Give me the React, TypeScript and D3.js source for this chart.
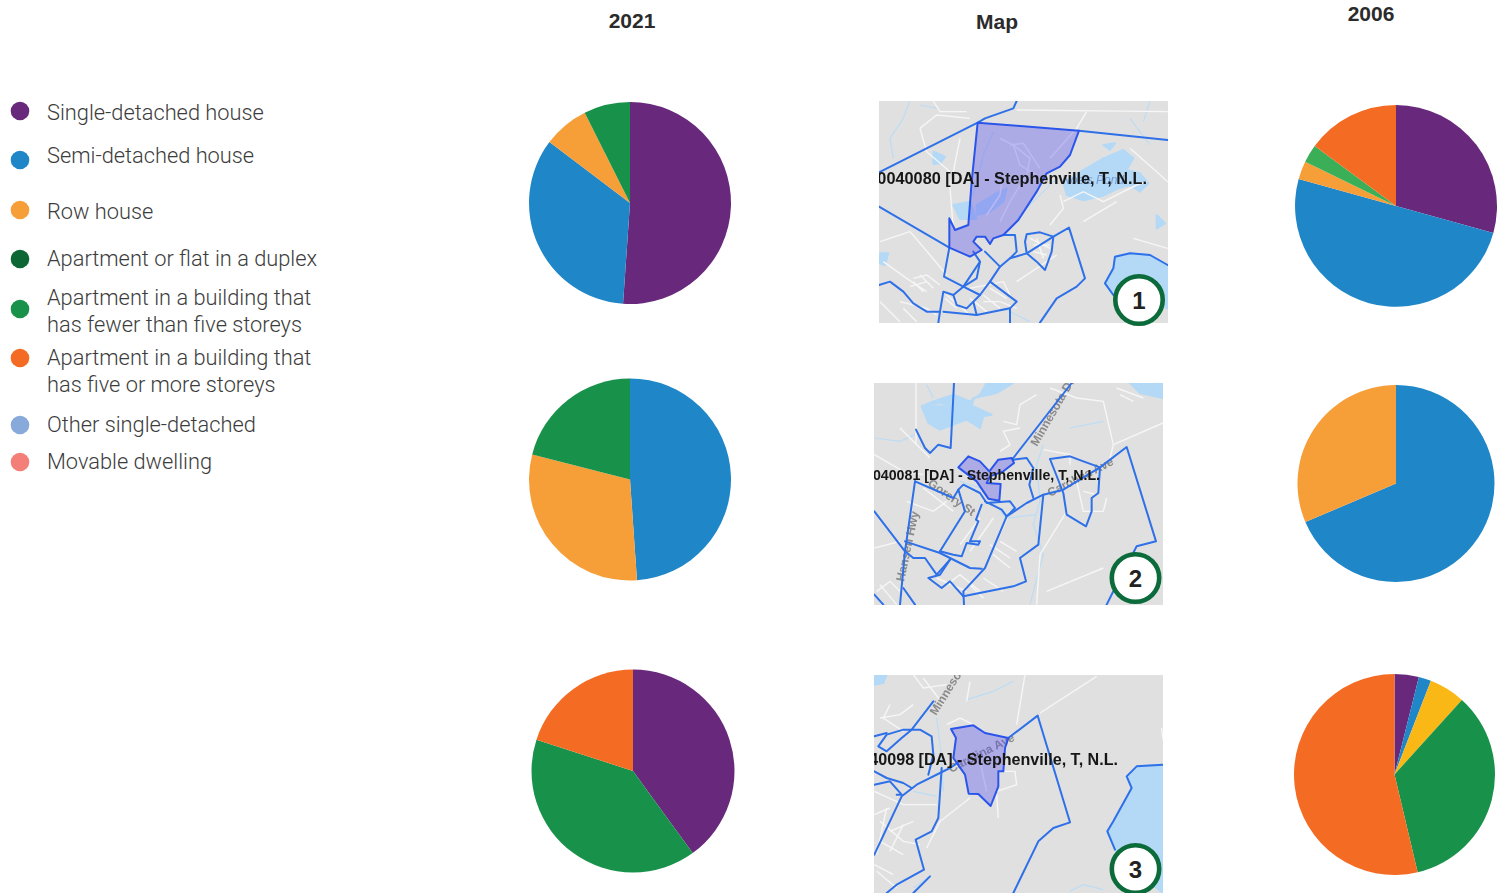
import React from 'react';
import * as d3 from 'd3';

const dwellingTypes = [
  'Single-detached house', 'Semi-detached house', 'Row house', 'Apartment or flat in a duplex',
  'Apartment in a building that has fewer than five storeys',
  'Apartment in a building that has five or more storeys',
  'Other single-detached', 'Movable dwelling',
];
const legendLines = [
  ['Single-detached house'], ['Semi-detached house'], ['Row house'], ['Apartment or flat in a duplex'],
  ['Apartment in a building that', 'has fewer than five storeys'],
  ['Apartment in a building that', 'has five or more storeys'],
  ['Other single-detached'], ['Movable dwelling'],
];
const legendDotY = [111, 160, 210, 259, 309, 358, 425, 462];
const legendTextY = [120, 163, 219, 266, 305, 364.5, 432, 469];
const legendColors = ['#68297c', '#1f86c8', '#f69e38', '#0c6735', '#18924a', '#f46c23', '#87aadb', '#f47f78'];

// shares in percent, clockwise from 12 o'clock
const pie2021a = [['#68297c', 51.1], ['#1f86c8', 34.2], ['#f69e38', 7.3], ['#18924a', 7.4]];
const pie2021b = [['#1f86c8', 48.9], ['#f69e38', 30.1], ['#18924a', 21]];
const pie2021c = [['#68297c', 40], ['#18924a', 40], ['#f46c23', 20]];
const pie2006a = [['#68297c', 29.3], ['#1f86c8', 50], ['#f69e38', 2.9], ['#3bae58', 2.9], ['#f46c23', 14.9]];
const pie2006b = [['#1f86c8', 68.6], ['#f69e38', 31.4]];
const pie2006c = [['#68297c', 3.9], ['#1f86c8', 2], ['#fab817', 5.8], ['#18924a', 34.6], ['#f46c23', 53.7]];

const pies: any[] = [
  { data: pie2021a, cx: 630, cy: 203, r: 101 },
  { data: pie2021b, cx: 630, cy: 479.5, r: 101 },
  { data: pie2021c, cx: 633, cy: 771, r: 101.5 },
  { data: pie2006a, cx: 1396, cy: 206, r: 101 },
  { data: pie2006b, cx: 1396, cy: 483.5, r: 98.5 },
  { data: pie2006c, cx: 1394.5, cy: 774.5, r: 100.5 },
];

type Pts = number[][];

// map traces, in pixels of a 3x enlargement of the map crop
const map1Water: Pts[] = [
  [[580,262],[640,225],[700,190],[760,165],[790,190],[770,225],[810,235],[835,265],[810,290],[780,270],[740,282],[700,302],[640,316],[590,300]],
  [[893,510],[840,480],[780,475],[735,485],[730,520],[705,565],[730,600],[790,600],[893,640]],
  [[190,170],[225,185],[210,205],[190,207]],
  [[250,330],[300,320],[320,372],[270,372]],
  [[30,475],[55,475],[45,510],[30,505]],
  [[860,360],[885,385],[860,400]],
  [[700,150],[735,145],[720,165]],
  [[320,330],[370,300],[410,280],[400,320],[360,350],[320,360]],
];
const map1Roads: Pts[] = [
  [[150,100],[200,60],[300,70]],[[190,18],[210,50],[290,50]],[[440,45],[893,50]],[[150,100],[170,170],[240,230]],
  [[270,130],[240,280],[250,400]],[[540,190],[620,100],[650,50]],[[780,160],[860,230],[893,260]],
  [[580,320],[640,290],[700,320],[800,270],[830,260]],[[570,300],[580,340],[540,390]],
  [[30,440],[120,410],[180,480],[230,540]],[[40,500],[110,550],[170,590]],[[90,620],[170,640],[200,660]],
  [[130,550],[170,540],[210,570]],[[430,150],[480,190],[470,240],[420,320],[390,380]],[[390,130],[430,150]],
  [[420,150],[460,145],[510,220]],[[430,150],[450,210],[500,240]],
  [[400,230],[390,300],[350,360]],[[480,430],[540,460]],[[500,430],[520,490]],[[300,580],[400,560],[420,600]],
  [[340,620],[390,620],[440,640]],[[440,560],[560,480]],[[640,380],[740,320]],[[790,430],[893,460]],
  [[130,560],[160,590]],[[150,540],[190,580]],[[120,575],[170,560]],[[225,610],[260,640]],[[340,600],[390,640]],
  [[360,580],[410,610]],[[300,610],[350,650]],[[490,450],[540,450]],[[490,470],[530,480]],[[30,620],[90,680]],
  [[100,640],[140,680]],[[230,600],[300,660]],
];
const map1Rivers: Pts[] = [
  [[120,18],[100,70],[60,130],[70,190]],[[370,110],[340,180],[310,300]],[[440,370],[560,250]],[[780,70],[840,150]],
  [[840,18],[820,80]],[[400,640],[480,680]],[[200,40],[150,30]],
];
const map1Lines: Pts[] = [
  [[27,232],[323,83],[345,70],[430,40],[440,18]],
  [[627,107],[893,135]],
  [[27,335],[238,458]],
  [[238,458],[222,545],[280,575],[330,500],[310,470]],
  [[400,420],[435,420],[440,470],[420,490],[470,475],[550,425],[597,398],[645,550],[620,575],[560,610],[510,683]],
  [[470,475],[465,440],[470,418],[510,412],[550,425],[545,470],[525,525],[500,500],[470,475]],
  [[893,510],[840,480],[780,475],[735,485],[730,520],[705,565],[730,600]],
  [[27,570],[60,560],[100,590],[130,625],[170,650],[210,650],[220,590],[250,600]],
  [[330,500],[320,550],[280,575],[250,600],[260,630],[290,640],[330,600],[360,560],[390,515],[345,470]],
  [[390,515],[420,490]],[[210,650],[205,683]],[[220,650],[320,660],[420,640],[420,683]],
  [[320,660],[310,620]],[[280,575],[330,600]],[[360,560],[440,620],[420,640]],
];
const map1Area: Pts = [[323,83],[627,107],[600,180],[570,215],[530,235],[500,290],[445,375],[400,420],[370,430],[360,447],[345,425],[320,425],[310,440],[335,465],[300,485],[238,458],[238,370],[255,405],[295,390],[305,260]];

const map2Water: Pts[] = [
  [[155,85],[210,75],[250,85],[305,90],[310,60],[380,45],[430,15],[350,15],[330,50],[300,70],[250,50],[190,70]],
  [[155,85],[175,135],[210,155],[290,125],[330,150],[340,115],[365,110],[310,85]],
  [[780,15],[810,45],[879,60],[879,15]],
];
const map2Roads: Pts[] = [
  [[138,15],[138,200]],[[400,130],[440,140],[450,80],[500,50]],[[540,30],[620,60],[700,70],[730,200],[720,240]],
  [[740,30],[820,60]],[[730,200],[879,135]],[[13,230],[100,280],[160,290]],[[90,150],[180,240]],
  [[160,330],[250,400]],[[110,370],[190,400],[230,370]],[[13,510],[90,490]],[[370,420],[300,520]],[[330,420],[270,500]],
  [[420,400],[350,560]],[[390,490],[440,520]],[[370,530],[420,570]],[[30,620],[80,680]],[[200,600],[290,640]],
  [[300,620],[340,660]],[[620,310],[640,400],[700,400],[710,360]],[[640,340],[680,350]],[[590,400],[510,530],[500,680]],
  [[520,215],[600,230],[600,260]],[[530,640],[700,570]],[[390,220],[420,200],[400,160],[450,150]],[[750,50],[790,70]],
  [[20,640],[60,610],[90,640]],[[230,620],[270,590],[330,640]],[[340,600],[400,640]],[[360,500],[420,540]],
];
const map2Rivers: Pts[] = [
  [[13,180],[90,190],[135,170]],[[520,200],[500,260],[510,370],[490,440],[520,530],[480,680]],[[600,150],[700,130]],
  [[270,310],[330,330],[410,420],[500,410]],[[190,60],[170,20]],
];
const map2Lines: Pts[] = [
  [[252,15],[242,210],[205,200],[180,225],[165,210],[138,155]],
  [[135,310],[105,520],[90,680]],
  [[605,15],[430,240]],
  [[135,310],[250,360],[265,335],[285,400],[210,520]],
  [[265,335],[280,320],[330,345],[350,375],[420,370],[435,390],[410,415],[395,395],[345,370]],
  [[410,415],[345,570],[280,640],[282,680]],
  [[430,245],[470,240],[490,270],[478,320],[490,360]],
  [[335,380],[318,425],[325,430],[300,490],[330,490],[325,500],[290,495],[275,535],[250,530],[210,520]],
  [[13,400],[105,520],[130,540],[165,540],[200,590],[240,545]],
  [[105,490],[210,525],[300,570],[335,572]],
  [[240,545],[210,590],[175,600],[215,630],[240,610],[280,655]],
  [[410,415],[470,375],[520,350],[580,335],[690,268],[770,207],[858,490],[800,505],[730,640],[710,680]],
  [[520,350],[505,500],[450,540],[468,610],[430,625],[280,655]],
  [[540,243],[600,235],[640,250],[690,268],[685,345],[665,360],[665,400],[648,445],[590,410],[580,345],[540,243]],
  [[13,650],[40,680]],[[100,630],[135,680]],
];
const map2Area: Pts = [[265,268],[295,235],[330,250],[358,280],[385,245],[425,240],[432,255],[400,280],[360,295],[350,315],[392,318],[388,368],[355,362],[320,310]];

const map3Water: Pts[] = [
  [[879,290],[800,295],[770,325],[785,360],[730,460],[712,490],[735,545],[800,600],[860,660],[879,675]],
  [[13,20],[50,20],[40,45],[13,50]],
];
const map3Roads: Pts[] = [
  [[130,20],[160,60],[230,50]],[[60,110],[40,150],[100,190]],[[290,100],[300,40]],[[510,135],[680,25]],
  [[465,20],[440,170]],[[230,170],[270,150],[310,170]],[[300,390],[210,460],[170,540]],[[380,370],[440,350],[435,310],[400,310]],
  [[380,380],[385,450]],[[330,280],[350,370]],[[13,370],[100,410],[200,410]],[[30,460],[100,520],[150,530]],
  [[50,420],[20,560]],[[60,490],[130,460]],[[20,610],[80,660]],[[875,180],[879,215]],[[30,150],[90,140],[130,110]],
  [[160,30],[220,110]],[[13,440],[60,420]],[[100,470],[60,550]],[[30,520],[100,560]],[[13,590],[70,620]],
];
const map3Rivers: Pts[] = [
  [[200,150],[215,270],[220,370]],[[290,95],[370,70],[430,40]],[[130,370],[200,385]],[[130,660],[180,625]],[[600,670],[640,650],[700,665]],
];
const map3Lines: Pts[] = [
  [[190,100],[125,185],[95,210],[50,250],[25,235],[50,200],[100,185],[150,185],[185,205],[190,260],[175,320]],
  [[13,205],[50,195]],
  [[13,310],[50,330],[100,345],[125,360]],[[13,350],[60,340],[95,380],[80,380]],
  [[13,560],[95,385],[140,350],[240,300],[270,280]],
  [[415,210],[503,143],[600,463],[550,480],[505,520],[430,675]],
  [[215,300],[205,450],[185,490],[137,515],[162,605],[80,650],[50,675]],
  [[879,290],[800,295],[770,325],[785,360],[730,460],[712,490],[735,545]],
  [[180,625],[130,675]],
];
const map3Area: Pts = [[243,183],[310,172],[345,195],[415,210],[405,240],[400,310],[385,310],[385,355],[362,414],[325,378],[296,377],[285,320],[250,270],[258,210]];

const maps: any[] = [
  { x: 879, y: 101, h: 222, ox: 870, oy: 95, water: map1Water, roads: map1Roads, rivers: map1Rivers, lines: map1Lines, area: map1Area,
    label: '0040080 [DA] - Stephenville, T, N.L.', lx: 1147, ly: 184, fs: 16.3, badge: '1', bx: 1139, by: 300,
    names: [['Noels Pond', 1062, 184, 0, 'rgba(75,115,190,.6)', 'italic']] },
  { x: 874, y: 383, h: 222, ox: 870, oy: 378, water: map2Water, roads: map2Roads, rivers: map2Rivers, lines: map2Lines, area: map2Area,
    label: '0040081 [DA] - Stephenville, T, N.L.', lx: 1100, ly: 480, fs: 14.2, badge: '2', bx: 1135.5, by: 578,
    names: [['Minnesota Dr', 1037, 447, -60, '#8a8a8a', 'normal'], ['Carolina Ave', 1050, 497, -27, '#8a8a8a', 'normal'], ['Gorery St', 927, 485, 35, '#8a8a8a', 'normal'], ['Hansen Hwy', 904, 582, -78, '#8a8a8a', 'normal']] },
  { x: 874, y: 675, h: 218, ox: 870, oy: 668, water: map3Water, roads: map3Roads, rivers: map3Rivers, lines: map3Lines, area: map3Area,
    label: '0040098 [DA] - Stephenville, T, N.L.', lx: 1118, ly: 765, fs: 16.1, badge: '3', bx: 1135.5, by: 869,
    names: [['Minnesota', 936, 716, -58, '#8a8a8a', 'normal'], ['Carolina Ave', 951, 773, -27, '#8a8a8a', 'normal']] },
];

const titles: [string, number, number][] = [['2021', 632, 28], ['Map', 997, 29], ['2006', 1371, 21]];
const sans = '"Liberation Sans", Arial, sans-serif';

function Pie({ data, cx, cy, r }: any) {
  const slices = d3.pie<any>().sort(null).value(d => d[1])(data);
  const arc = d3.arc<any>().innerRadius(0).outerRadius(r);
  return (
    <g transform={`translate(${cx},${cy})`}>
      {slices.map((s, i) => <path key={i} d={arc(s) as string} fill={s.data[0]} />)}
    </g>
  );
}

function MapPanel({ m, id }: any) {
  // zoom pixels back to page pixels
  const sx = d3.scaleLinear().domain([0, 3]).range([m.ox, m.ox + 1]);
  const sy = d3.scaleLinear().domain([0, 3]).range([m.oy, m.oy + 1]);
  const line = d3.line<number[]>().x(d => sx(d[0])).y(d => sy(d[1]));
  const closed = (p: Pts) => (line(p) as string) + 'Z';
  return (
    <g>
      <clipPath id={`clip${id}`}><rect x={m.x} y={m.y} width={289} height={m.h} /></clipPath>
      <g clipPath={`url(#clip${id})`}>
        <rect x={m.x} y={m.y} width={289} height={m.h} fill="#e0e0e0" />
        <g filter="url(#soft)">
          {m.water.map((p: Pts, i: number) => <path key={i} d={closed(p)} fill="#b4d9f6" stroke="#b4d9f6" strokeWidth={2} strokeLinejoin="round" />)}
          {m.rivers.map((p: Pts, i: number) => <path key={i} d={line(p) as string} fill="none" stroke="#bcdcf4" strokeWidth={1.2} />)}
          {m.roads.map((p: Pts, i: number) => <path key={i} d={line(p) as string} fill="none" stroke="#f6f6f6" strokeWidth={1.4} />)}
          {m.names.map((n: any, i: number) => (
            <text key={i} transform={`translate(${n[1]},${n[2]}) rotate(${n[3]})`} fontFamily={sans} fontSize={12} fontWeight={n[5] === 'italic' ? 400 : 700} fontStyle={n[5]} fill={n[4]}>{n[0]}</text>
          ))}
          {m.lines.map((p: Pts, i: number) => <path key={i} d={line(p) as string} fill="none" stroke="#2f70e8" strokeWidth={2} strokeLinejoin="round" strokeLinecap="round" />)}
          <path d={closed(m.area)} fill="rgba(92,84,236,.38)" stroke="#2a55ea" strokeWidth={2} strokeLinejoin="round" />
          <text x={m.lx} y={m.ly} textAnchor="end" fontFamily={sans} fontSize={m.fs} fontWeight={700} fill="#161616">{m.label}</text>
        </g>
      </g>
      <circle cx={m.bx} cy={m.by} r={23.7} fill="#fff" stroke="#0c6b3a" strokeWidth={4.6} />
      <text x={m.bx} y={m.by + 8.5} textAnchor="middle" fontFamily={sans} fontSize={24} fontWeight={700} fill="#222">{m.badge}</text>
    </g>
  );
}

export default function App() {
  return (
    <svg width={1503} height={893} style={{ position: 'absolute', left: 0, top: 0, display: 'block', background: '#fff' }}>
      <defs>
        <filter id="soft" x="-5%" y="-5%" width="110%" height="110%"><feGaussianBlur stdDeviation="0.45" /></filter>
      </defs>
      {titles.map(([t, x, y]) => (
        <text key={t} x={x} y={y} textAnchor="middle" fontFamily={sans} fontSize={21} fontWeight={700} fill="#2b2b2b">{t}</text>
      ))}
      {dwellingTypes.map((name, i) => (
        <g key={name}>
          <circle cx={20} cy={legendDotY[i]} r={9.3} fill={legendColors[i]} />
          <text fontFamily='Roboto, sans-serif' fontWeight={300} fontSize={21.8} fill="#3c3c3c">
            {legendLines[i].map((l, j) => <tspan key={j} x={47} y={legendTextY[i] + j * 27}>{l}</tspan>)}
          </text>
        </g>
      ))}
      {pies.map((p, i) => <Pie key={i} {...p} />)}
      {maps.map((m, i) => <MapPanel key={i} m={m} id={i} />)}
    </svg>
  );
}
